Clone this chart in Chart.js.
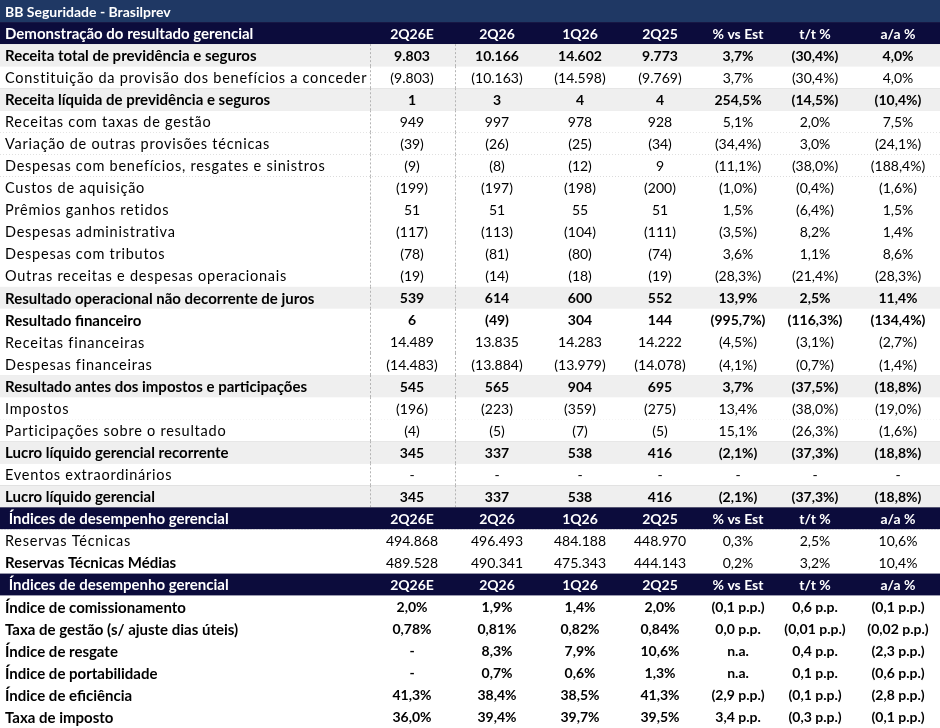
<!DOCTYPE html>
<html>
<head>
<meta charset="utf-8">
<script src="https://cdn.jsdelivr.net/npm/chart.js@4"></script>
<style>
  body { margin: 0; background: #fff; }
  #wrap { width: 940px; height: 728px; }
</style>
</head>
<body>
<div id="wrap"><canvas id="tabela"></canvas></div>
<script>
// ---- dados da tabela ----
const colunas = ['2Q26E', '2Q26', '1Q26', '2Q25', '% vs Est', 't/t %', 'a/a %'];

const linhas = [
  'BB Seguridade - Brasilprev',
  'Demonstração do resultado gerencial',
  'Receita total de previdência e seguros',
  'Constituição da provisão dos benefícios a conceder',
  'Receita líquida de previdência e seguros',
  'Receitas com taxas de gestão',
  'Variação de outras provisões técnicas',
  'Despesas com benefícios, resgates e sinistros',
  'Custos de aquisição',
  'Prêmios ganhos retidos',
  'Despesas administrativa',
  'Despesas com tributos',
  'Outras receitas e despesas operacionais',
  'Resultado operacional não decorrente de juros',
  'Resultado financeiro',
  'Receitas financeiras',
  'Despesas financeiras',
  'Resultado antes dos impostos e participações',
  'Impostos',
  'Participações sobre o resultado',
  'Lucro líquido gerencial recorrente',
  'Eventos extraordinários',
  'Lucro líquido gerencial',
  ' Índices de desempenho gerencial',
  'Reservas Técnicas',
  'Reservas Técnicas Médias',
  ' Índices de desempenho gerencial',
  'Índice de comissionamento',
  'Taxa de gestão (s/ ajuste dias úteis)',
  'Índice de resgate',
  'Índice de portabilidade',
  'Índice de eficiência',
  'Taxa de imposto'
];

// tipo: t = título, h = cabeçalho, g = negrito fundo cinza, b = negrito, l = só rótulo negrito, n = normal espaçado
const tipos = ['t','h','g','n','g','n','n','n','n','n','n','n','n','g','b','n','n','g','n','n','g','n','g',
               'h','n','l','h','b','b','b','b','b','b'];

const v2Q26E = ['', '', '9.803','(9.803)','1','949','(39)','(9)','(199)','51','(117)','(78)','(19)','539','6','14.489','(14.483)','545','(196)','(4)','345','-','345',
                '', '494.868','489.528', '', '2,0%','0,78%','-','-','41,3%','36,0%'];
const v2Q26  = ['', '', '10.166','(10.163)','3','997','(26)','(8)','(197)','51','(113)','(81)','(14)','614','(49)','13.835','(13.884)','565','(223)','(5)','337','-','337',
                '', '496.493','490.341', '', '1,9%','0,81%','8,3%','0,7%','38,4%','39,4%'];
const v1Q26  = ['', '', '14.602','(14.598)','4','978','(25)','(12)','(198)','55','(104)','(80)','(18)','600','304','14.283','(13.979)','904','(359)','(7)','538','-','538',
                '', '484.188','475.343', '', '1,4%','0,82%','7,9%','0,6%','38,5%','39,7%'];
const v2Q25  = ['', '', '9.773','(9.769)','4','928','(34)','9','(200)','51','(111)','(74)','(19)','552','144','14.222','(14.078)','695','(275)','(5)','416','-','416',
                '', '448.970','444.143', '', '2,0%','0,84%','10,6%','1,3%','41,3%','39,5%'];
const vsEst  = ['', '', '3,7%','3,7%','254,5%','5,1%','(34,4%)','(11,1%)','(1,0%)','1,5%','(3,5%)','3,6%','(28,3%)','13,9%','(995,7%)','(4,5%)','(4,1%)','3,7%','13,4%','15,1%','(2,1%)','-','(2,1%)',
                '', '0,3%','0,2%', '', '(0,1 p.p.)','0,0 p.p.','n.a.','n.a.','(2,9 p.p.)','3,4 p.p.'];
const tt     = ['', '', '(30,4%)','(30,4%)','(14,5%)','2,0%','3,0%','(38,0%)','(0,4%)','(6,4%)','8,2%','1,1%','(21,4%)','2,5%','(116,3%)','(3,1%)','(0,7%)','(37,5%)','(38,0%)','(26,3%)','(37,3%)','-','(37,3%)',
                '', '2,5%','3,2%', '', '0,6 p.p.','(0,01 p.p.)','0,4 p.p.','0,1 p.p.','(0,1 p.p.)','(0,3 p.p.)'];
const aa     = ['', '', '4,0%','4,0%','(10,4%)','7,5%','(24,1%)','(188,4%)','(1,6%)','1,5%','1,4%','8,6%','(28,3%)','11,4%','(134,4%)','(2,7%)','(1,4%)','(18,8%)','(19,0%)','(1,6%)','(18,8%)','-','(18,8%)',
                '', '10,6%','10,4%', '', '(0,1 p.p.)','(0,02 p.p.)','(2,3 p.p.)','(0,6 p.p.)','(2,8 p.p.)','(0,1 p.p.)'];

const valores = [v2Q26E, v2Q26, v1Q26, v2Q25, vsEst, tt, aa];
const centrosX = [412, 497, 580, 660, 738, 815, 898];

const FONTE = 'Lato, "Open Sans", sans-serif';

// ---- plugin que desenha as células sobre as escalas ----
const desenhaTabela = {
  id: 'desenhaTabela',
  afterDraw(chart) {
    const ctx = chart.ctx;
    const y = chart.scales.y, x = chart.scales.x;
    const alt = Math.abs(y.getPixelForValue(1) - y.getPixelForValue(0));
    const x0 = x.getPixelForValue(0), x1 = x.getPixelForValue(940);
    ctx.save();
    ctx.textBaseline = 'middle';
    linhas.forEach((rot, i) => {
      const cy = y.getPixelForValue(i);
      const top = cy - alt / 2;
      const tp = tipos[i];
      // fundo
      if (tp === 't') ctx.fillStyle = '#1f3864';
      else if (tp === 'h') ctx.fillStyle = '#0c0c3c';
      else if (tp === 'g') ctx.fillStyle = '#efefef';
      else ctx.fillStyle = '#ffffff';
      ctx.fillRect(x0, top, x1 - x0, alt);

      // linha inferior
      const cheia = tp === 'g' || tipos[i + 1] === 'g' || tipos[i + 1] === 'h';
      ctx.strokeStyle = cheia ? '#c8c8c8' : '#b4b4b4';
      ctx.lineWidth = 1;
      ctx.setLineDash(cheia ? [] : [1, 2]);
      ctx.beginPath();
      ctx.moveTo(x0, Math.round(top + alt) + 0.5);
      ctx.lineTo(x1, Math.round(top + alt) + 0.5);
      ctx.stroke();

      // separador vertical
      if (i >= 2 && i <= 22) {
        ctx.setLineDash([2, 2]);
        ctx.strokeStyle = '#b4b4b4';
        [370, 455].forEach(px => {
          ctx.beginPath();
          ctx.moveTo(x.getPixelForValue(px) + 0.5, top);
          ctx.lineTo(x.getPixelForValue(px) + 0.5, top + alt);
          ctx.stroke();
        });
      }
      ctx.setLineDash([]);

      // rótulo
      const escuro = tp === 't' || tp === 'h';
      ctx.fillStyle = escuro ? '#ffffff' : '#000000';
      const negrito = tp !== 'n';
      ctx.font = (negrito ? 'bold ' : '') + (tp === 't' ? '14px ' : tp === 'n' ? '14.5px ' : '15px ') + FONTE;
      ctx.letterSpacing = tp === 'n' ? '0.75px' : '0px';
      ctx.textAlign = 'left';
      ctx.fillText(rot, x.getPixelForValue(5), cy + 1);
      ctx.letterSpacing = '0px';

      // valores
      ctx.textAlign = 'center';
      ctx.font = (negrito && tp !== 'l' ? 'bold ' : '') + '14px ' + FONTE;
      valores.forEach((serie, c) => {
        const txt = tp === 'h' ? colunas[c] : serie[i];
        if (txt) ctx.fillText(txt, x.getPixelForValue(centrosX[c]), cy + 1);
      });
    });
    ctx.restore();
  }
};

new Chart(document.getElementById('tabela'), {
  type: 'bar',
  data: {
    labels: linhas.map((_, i) => i),
    datasets: [{ data: linhas.map(() => 0), backgroundColor: 'transparent' }]
  },
  options: {
    indexAxis: 'y',
    responsive: true,
    maintainAspectRatio: false,
    animation: false,
    layout: { padding: 0 },
    plugins: { legend: { display: false }, tooltip: { enabled: false } },
    scales: {
      x: { type: 'linear', min: 0, max: 940, display: false },
      y: { type: 'category', display: false, offset: true }
    }
  },
  plugins: [desenhaTabela]
});
</script>
</body>
</html>
